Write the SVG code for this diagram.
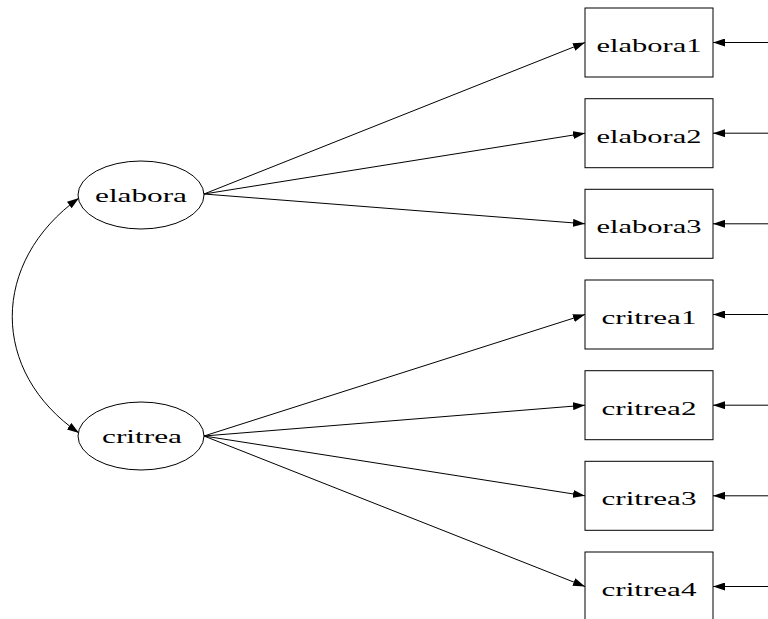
<svg xmlns="http://www.w3.org/2000/svg" width="768" height="619" viewBox="0 0 768 619">
<style>
.n{fill:#fff;stroke:#000;stroke-width:1}
.t{font-family:"Liberation Serif","Times New Roman",serif;font-size:18px;fill:#000;text-anchor:middle}
.e{fill:none;stroke:#000;stroke-width:1}
</style>
<defs>
<marker id="ah" viewBox="0 0 12 8" refX="12" refY="4" markerWidth="12" markerHeight="8" markerUnits="userSpaceOnUse" orient="auto-start-reverse">
<path d="M0,0 L12,4 L0,8 Z" fill="#000"/>
</marker>
</defs>
<rect width="768" height="619" fill="#fff"/>
<g id="connectors">
<path class="e" d="M79,198 C-10,262 -10,372 79,433" marker-start="url(#ah)" marker-end="url(#ah)"/>
<line class="e" x1="204" y1="194" x2="585" y2="42.5" marker-end="url(#ah)"/>
<line class="e" x1="204" y1="194" x2="585" y2="133.2" marker-end="url(#ah)"/>
<line class="e" x1="204" y1="194" x2="585" y2="223.8" marker-end="url(#ah)"/>
<line class="e" x1="204" y1="436" x2="585" y2="314.5" marker-end="url(#ah)"/>
<line class="e" x1="204" y1="436" x2="585" y2="405.2" marker-end="url(#ah)"/>
<line class="e" x1="204" y1="436" x2="585" y2="495.8" marker-end="url(#ah)"/>
<line class="e" x1="204" y1="436" x2="585" y2="586.5" marker-end="url(#ah)"/>
<line class="e" x1="768" y1="42.5" x2="713" y2="42.5" marker-end="url(#ah)"/>
<line class="e" x1="768" y1="133.2" x2="713" y2="133.2" marker-end="url(#ah)"/>
<line class="e" x1="768" y1="223.8" x2="713" y2="223.8" marker-end="url(#ah)"/>
<line class="e" x1="768" y1="314.5" x2="713" y2="314.5" marker-end="url(#ah)"/>
<line class="e" x1="768" y1="405.2" x2="713" y2="405.2" marker-end="url(#ah)"/>
<line class="e" x1="768" y1="495.8" x2="713" y2="495.8" marker-end="url(#ah)"/>
<line class="e" x1="768" y1="586.5" x2="713" y2="586.5" marker-end="url(#ah)"/>
</g>
<g id="elabora">
<ellipse class="n" cx="141" cy="195" rx="63" ry="34"/>
<text class="t" x="141" y="202" textLength="92" lengthAdjust="spacingAndGlyphs">elabora</text>
</g>
<g id="critrea">
<ellipse class="n" cx="141" cy="436" rx="63" ry="34"/>
<text class="t" x="142" y="443" textLength="80" lengthAdjust="spacingAndGlyphs">critrea</text>
</g>
<g id="elabora1">
<rect class="n" x="585" y="8" width="128" height="69"/>
<text class="t" x="649" y="52" textLength="105" lengthAdjust="spacingAndGlyphs">elabora1</text>
</g>
<g id="elabora2">
<rect class="n" x="585" y="98.7" width="128" height="69"/>
<text class="t" x="649" y="142.7" textLength="105" lengthAdjust="spacingAndGlyphs">elabora2</text>
</g>
<g id="elabora3">
<rect class="n" x="585" y="189.3" width="128" height="69"/>
<text class="t" x="649" y="233.3" textLength="105" lengthAdjust="spacingAndGlyphs">elabora3</text>
</g>
<g id="critrea1">
<rect class="n" x="585" y="280" width="128" height="69"/>
<text class="t" x="649" y="324" textLength="95" lengthAdjust="spacingAndGlyphs">critrea1</text>
</g>
<g id="critrea2">
<rect class="n" x="585" y="370.7" width="128" height="69"/>
<text class="t" x="649" y="414.7" textLength="95" lengthAdjust="spacingAndGlyphs">critrea2</text>
</g>
<g id="critrea3">
<rect class="n" x="585" y="461.3" width="128" height="69"/>
<text class="t" x="649" y="505.3" textLength="95" lengthAdjust="spacingAndGlyphs">critrea3</text>
</g>
<g id="critrea4">
<rect class="n" x="585" y="552" width="128" height="69"/>
<text class="t" x="649" y="596" textLength="95" lengthAdjust="spacingAndGlyphs">critrea4</text>
</g>
</svg>
